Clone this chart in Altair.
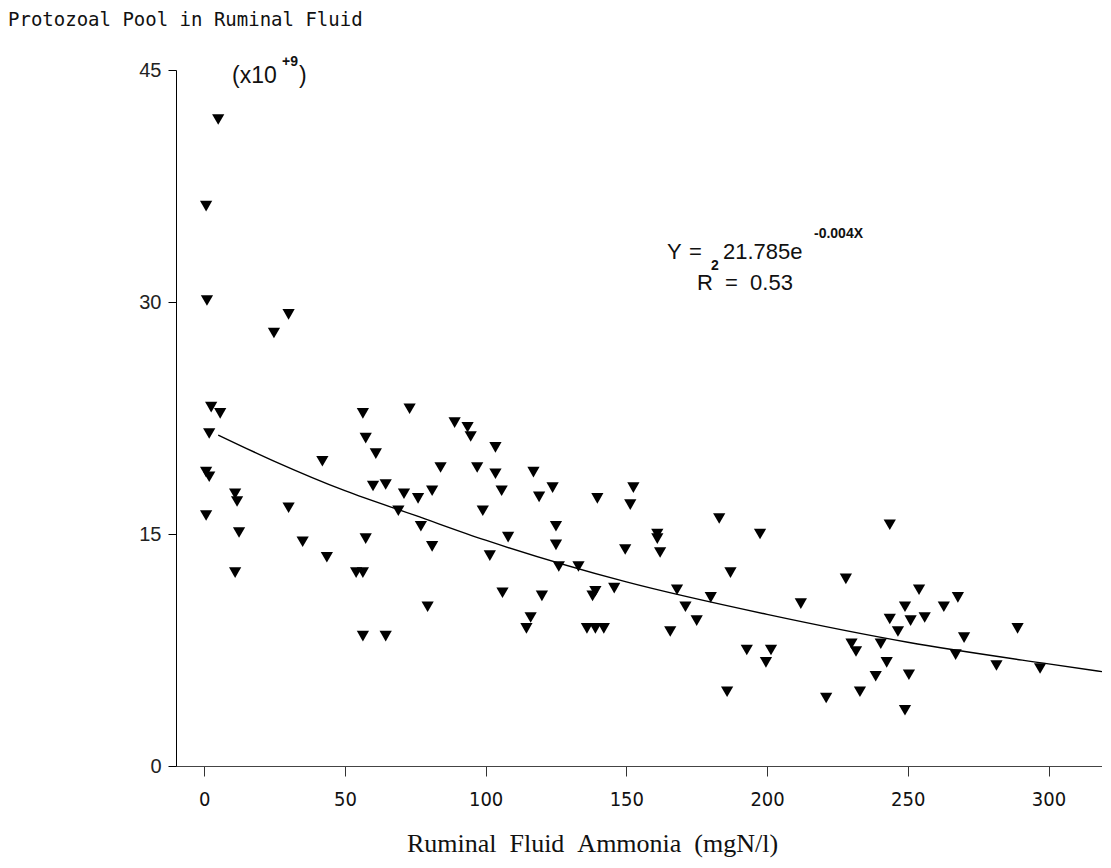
import altair as alt
import pandas as pd

ammonia = [5, 0.7, 1, 2.5, 5.7, 1.8, 0.7, 1.8, 0.7, 11, 11.7, 12.4, 11,
           24.8, 30, 30, 35, 42, 43.6,
           54, 56.4, 56.4, 57.4, 61, 57.4, 60, 64.5, 56.4, 64.5,
           69, 71, 73, 76, 77, 79.4, 81, 81, 84,
           89, 93.6, 94.7, 97, 99, 101.5, 103.5, 103.5, 105.7, 106, 108,
           114.5, 116, 117, 119, 120, 123.8, 125, 125, 126,
           133, 136, 139, 142, 138, 139, 139.7, 145.7, 149.6, 151.4, 152.5,
           161, 161, 162, 165.6, 168, 171, 175, 180, 183, 185.8, 187, 192.8,
           197.5, 199.6, 201.4, 212, 221, 228, 230, 231.6, 233,
           238.6, 240.4, 242.5, 243.6, 243.6, 246.5, 249, 249, 250.4, 251, 254, 256,
           262.8, 267.8, 267, 270, 281.5, 289, 297]
pool = [41.8, 36.2, 30.1, 23.2, 22.8, 21.5, 19.0, 18.7, 16.2, 17.6, 17.1, 15.1, 12.5,
        28.0, 29.2, 16.7, 14.5, 19.7, 13.5,
        12.5, 12.5, 22.8, 21.2, 20.2, 14.7, 18.1, 18.2, 8.4, 8.4,
        16.5, 17.6, 23.1, 17.3, 15.5, 10.3, 17.8, 14.2, 19.3,
        22.2, 21.9, 21.3, 19.3, 16.5, 13.6, 20.6, 18.9, 17.8, 11.2, 14.8,
        8.9, 9.6, 19.0, 17.4, 11.0, 18.0, 15.5, 14.3, 12.9,
        12.9, 8.9, 8.9, 8.9, 11.0, 11.3, 17.3, 11.5, 14.0, 16.9, 18.0,
        15.0, 14.7, 13.8, 8.7, 11.4, 10.3, 9.4, 10.9, 16.0, 4.8, 12.5, 7.5,
        15.0, 6.7, 7.5, 10.5, 4.4, 12.1, 7.9, 7.4, 4.8,
        5.8, 7.9, 6.7, 15.6, 9.5, 8.7, 10.3, 3.6, 5.9, 9.4, 11.4, 9.6,
        10.3, 10.9, 7.2, 8.3, 6.5, 8.9, 6.3]

# Fitted curve at several x positions
curve_x = [5, 25, 50, 75, 100, 150, 200, 250, 300, 319]
curve_y = [21.4, 19.7, 17.8, 16.2, 14.6, 11.9, 9.8, 8.0, 6.6, 6.1]

x_ticks = [0, 50, 100, 150, 200, 250, 300]
y_ticks = [0, 15, 30, 45]

pts = pd.DataFrame({"nh3": ammonia, "pool": pool})
fit = pd.DataFrame({"nh3": curve_x, "pool": curve_y})

xs = alt.Scale(domain=[-10, 319], nice=False, zero=False)
ys = alt.Scale(domain=[0, 45], nice=False)

NB = "\u00a0"

xaxis = alt.Axis(values=x_ticks, title=f"Ruminal{NB}{NB}Fluid{NB}{NB}Ammonia{NB}{NB}(mgN/l)",
                 grid=False, tickSize=10, labelPadding=13, labelFontSize=20,
                 labelFont="Liberation Sans Narrow, DejaVu Sans Condensed, Liberation Sans",
                 titleFont="Liberation Serif", titleFontSize=26, titleFontWeight="normal",
                 titleX=416, titleY=77, titleAlign="center", titleBaseline="middle",
                 domainColor="#444", tickColor="#333", labelColor="#111",
                 titleColor="#111")
yaxis = alt.Axis(values=y_ticks, title=None, grid=False, tickSize=8, labelPadding=7,
                 labelFontSize=20, labelFont="Liberation Sans", domainColor="black",
                 tickColor="black", labelColor="#222")

points = alt.Chart(pts).mark_point(shape="triangle-down", filled=True, color="black",
                                   size=150, opacity=1).encode(
    x=alt.X("nh3:Q", scale=xs, axis=xaxis),
    y=alt.Y("pool:Q", scale=ys, axis=yaxis),
)

line = alt.Chart(fit).mark_line(color="black", strokeWidth=1.4, interpolate="monotone").encode(
    x=alt.X("nh3:Q", scale=xs),
    y=alt.Y("pool:Q", scale=ys),
)


def label(txt, px, py, size, font="Liberation Sans", weight="normal", align="left"):
    return alt.Chart(pd.DataFrame({"t": [txt]})).mark_text(
        align=align, baseline="middle", fontSize=size, font=font, fontWeight=weight,
        color="#111"
    ).encode(text="t:N", x=alt.value(px), y=alt.value(py))


texts = [
    label("Protozoal Pool in Ruminal Fluid", -168, -50, 19, font="DejaVu Sans Mono"),
    label("(x10", 56, 6, 23),
    label("+9", 106, -8, 14, weight="bold"),
    label(")", 123, 6, 23),
    label("Y", 491, 182, 22),
    label("=", 513, 182, 22),
    label("21.785e", 547, 182, 22),
    label("-0.004X", 638, 164, 14, weight="bold"),
    label("R", 521, 213, 22),
    label("2", 535, 196, 14, weight="bold"),
    label(f"={NB}{NB}0.53", 549, 213, 22),
]

chart = alt.layer(line, points, *texts).properties(
    width=926, height=696,
    autosize=alt.AutoSizeParams(type="none"),
    padding={"left": 168, "top": 62, "right": 0, "bottom": 94},
).configure_view(stroke=None)

chart.save("out.html", embed_options={"renderer": "svg", "actions": False})
